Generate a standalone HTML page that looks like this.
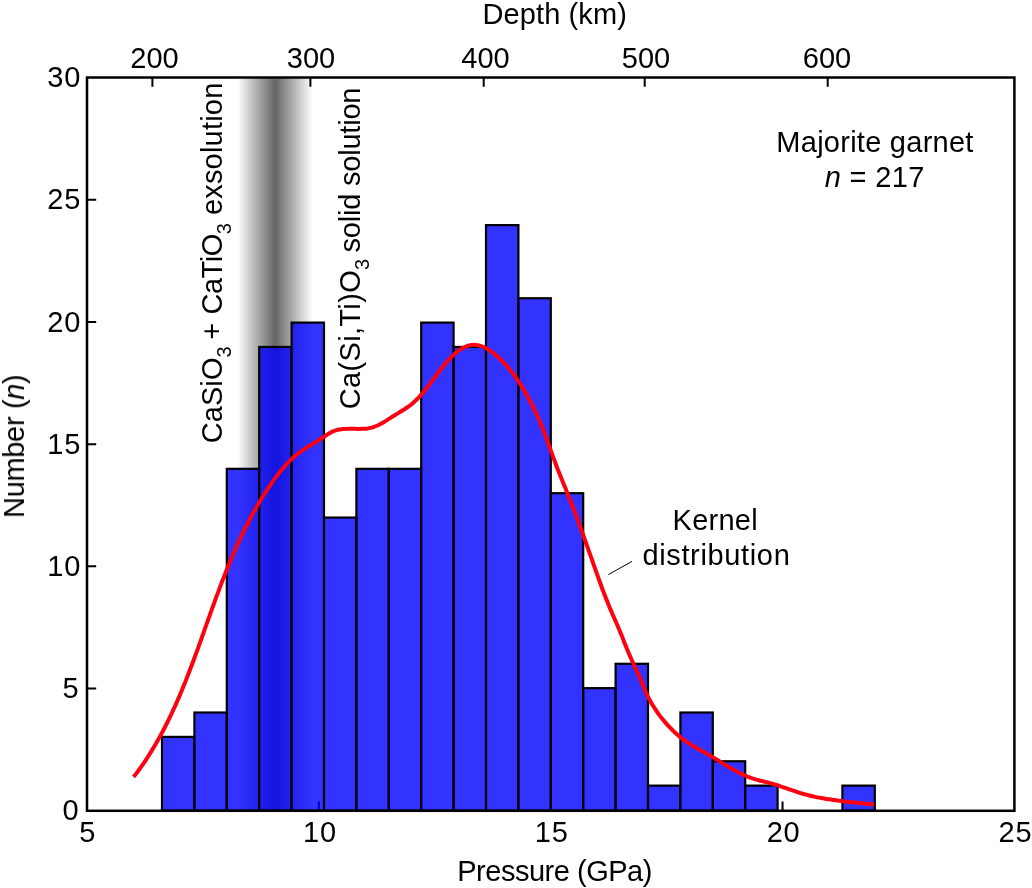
<!DOCTYPE html>
<html><head><meta charset="utf-8"><title>Majorite garnet histogram</title>
<style>
html,body{margin:0;padding:0;background:#fff;}
body{width:1032px;height:888px;overflow:hidden;}
svg{display:block;}
text{font-family:"Liberation Sans",sans-serif;font-size:29px;fill:#000;}
.i{font-style:italic;}
</style></head><body>
<svg width="1032" height="888" viewBox="0 0 1032 888">
<defs>
<linearGradient id="band" x1="0" y1="0" x2="1" y2="0">
<stop offset="0" stop-color="#ffffff"/>
<stop offset="0.5" stop-color="#666464"/>
<stop offset="1" stop-color="#ffffff"/>
</linearGradient>
</defs>
<rect x="0" y="0" width="1032" height="888" fill="#ffffff"/>
<rect x="237.5" y="77.5" width="75" height="733.3" fill="url(#band)"/>
<path d="M87.0,688.58H96.2M87.0,566.37H96.2M87.0,444.15H96.2M87.0,321.93H96.2M87.0,199.72H96.2M318.85,810.8V801.5M550.70,810.8V801.5M782.55,810.8V801.5M152.4,77.5V86.7M310.4,77.5V86.7M483.7,77.5V86.7M644.7,77.5V86.7M827.7,77.5V86.7" stroke="#000" stroke-width="2" fill="none"/>
<g fill="#0000ff" fill-opacity="0.8" stroke="#000" stroke-width="2.2" stroke-linejoin="miter">
<rect x="162.00" y="736.89" width="32.40" height="73.71"/>
<rect x="194.40" y="712.52" width="32.40" height="98.08"/>
<rect x="226.80" y="468.82" width="32.40" height="341.78"/>
<rect x="259.20" y="346.97" width="32.40" height="463.63"/>
<rect x="291.60" y="322.60" width="32.40" height="488.00"/>
<rect x="324.00" y="517.56" width="32.40" height="293.04"/>
<rect x="356.40" y="468.82" width="32.40" height="341.78"/>
<rect x="388.80" y="468.82" width="32.40" height="341.78"/>
<rect x="421.20" y="322.60" width="32.40" height="488.00"/>
<rect x="453.60" y="346.97" width="32.40" height="463.63"/>
<rect x="486.00" y="225.12" width="32.40" height="585.48"/>
<rect x="518.40" y="298.23" width="32.40" height="512.37"/>
<rect x="550.80" y="493.19" width="32.40" height="317.41"/>
<rect x="583.20" y="688.15" width="32.40" height="122.45"/>
<rect x="615.60" y="663.78" width="32.40" height="146.82"/>
<rect x="648.00" y="785.63" width="32.40" height="24.97"/>
<rect x="680.40" y="712.52" width="32.40" height="98.08"/>
<rect x="712.80" y="761.26" width="32.40" height="49.34"/>
<rect x="745.20" y="785.63" width="32.40" height="24.97"/>
<rect x="842.40" y="785.63" width="32.40" height="24.97"/>
</g>
<rect x="87.0" y="77.5" width="927.4" height="733.3" fill="none" stroke="#000" stroke-width="2.5"/>
<path d="M133.5,776.9C134.0,776.3 135.6,774.4 136.6,773.1C137.6,771.8 138.6,770.4 139.6,769.0C140.5,767.7 141.5,766.3 142.5,764.9C143.4,763.5 144.4,762.2 145.3,760.8C146.2,759.4 147.1,758.0 148.0,756.6C148.9,755.1 149.8,753.7 150.7,752.3C151.6,750.9 152.5,749.4 153.3,748.0C154.2,746.6 155.1,745.1 155.9,743.7C156.7,742.2 157.6,740.8 158.4,739.3C159.2,737.8 160.0,736.4 160.8,734.9C161.6,733.4 162.4,732.0 163.2,730.5C164.0,729.0 164.7,727.5 165.5,726.0C166.3,724.5 167.0,723.0 167.8,721.5C168.5,720.0 169.2,718.5 170.0,717.0C170.7,715.5 171.4,714.0 172.1,712.5C172.8,710.9 173.5,709.4 174.2,707.9C174.9,706.4 175.6,704.8 176.3,703.3C177.0,701.8 177.6,700.2 178.3,698.7C179.0,697.2 179.6,695.6 180.3,694.1C180.9,692.5 181.6,691.0 182.2,689.4C182.9,687.9 183.5,686.3 184.1,684.8C184.7,683.2 185.4,681.7 186.0,680.1C186.6,678.5 187.2,677.0 187.8,675.4C188.4,673.9 189.0,672.3 189.6,670.7C190.2,669.2 190.8,667.6 191.4,666.0C192.0,664.5 192.6,662.9 193.2,661.3C193.8,659.8 194.4,658.2 194.9,656.6C195.5,655.0 196.1,653.5 196.7,651.9C197.2,650.3 197.8,648.7 198.4,647.2C198.9,645.6 199.5,644.0 200.1,642.4C200.6,640.9 201.2,639.3 201.8,637.7C202.3,636.1 202.9,634.5 203.5,633.0C204.0,631.4 204.6,629.8 205.1,628.2C205.7,626.6 206.3,625.1 206.8,623.5C207.4,621.9 207.9,620.3 208.5,618.7C209.1,617.2 209.6,615.6 210.2,614.0C210.7,612.4 211.3,610.8 211.9,609.3C212.4,607.7 213.0,606.1 213.6,604.5C214.2,603.0 214.7,601.4 215.3,599.8C215.9,598.2 216.4,596.7 217.0,595.1C217.6,593.5 218.2,591.9 218.8,590.4C219.4,588.8 219.9,587.2 220.5,585.7C221.1,584.1 221.7,582.5 222.3,581.0C222.9,579.4 223.5,577.8 224.2,576.3C224.8,574.7 225.4,573.2 226.0,571.6C226.6,570.0 227.2,568.5 227.9,566.9C228.5,565.4 229.1,563.8 229.8,562.3C230.4,560.7 231.1,559.2 231.7,557.6C232.4,556.1 233.0,554.6 233.7,553.0C234.4,551.5 235.0,550.0 235.7,548.4C236.4,546.9 237.1,545.4 237.8,543.8C238.5,542.3 239.2,540.8 239.9,539.3C240.6,537.8 241.3,536.2 242.0,534.7C242.8,533.2 243.5,531.7 244.2,530.2C245.0,528.7 245.7,527.2 246.5,525.7C247.2,524.2 248.0,522.7 248.8,521.2C249.6,519.7 250.3,518.3 251.1,516.8C251.9,515.3 252.7,513.8 253.5,512.4C254.3,510.9 255.2,509.4 256.0,508.0C256.8,506.5 257.6,505.1 258.5,503.6C259.3,502.2 260.2,500.7 261.1,499.3C261.9,497.9 262.8,496.4 263.7,495.0C264.6,493.6 265.5,492.2 266.4,490.8C267.3,489.4 268.3,488.0 269.2,486.6C270.2,485.2 271.1,483.8 272.1,482.5C273.0,481.1 274.0,479.7 275.0,478.4C276.0,477.0 277.0,475.7 278.0,474.4C279.1,473.0 280.1,471.7 281.2,470.4C282.2,469.1 283.3,467.8 284.4,466.6C285.5,465.3 286.6,464.1 287.8,462.9C288.9,461.7 290.1,460.5 291.3,459.3C292.5,458.2 293.8,457.0 295.1,455.9C296.4,454.9 297.7,453.8 299.0,452.8C300.4,451.8 301.7,450.9 303.1,449.9C304.5,449.0 305.9,448.1 307.4,447.2C308.8,446.3 310.2,445.5 311.7,444.6C313.1,443.7 314.5,442.9 316.0,442.0C317.4,441.1 318.8,440.2 320.2,439.3C321.6,438.4 323.0,437.4 324.4,436.5C325.8,435.6 327.2,434.6 328.6,433.8C330.1,432.9 331.5,432.1 333.0,431.4C334.6,430.8 336.2,430.2 337.8,429.8C339.4,429.4 341.1,429.2 342.8,429.0C344.4,428.9 346.1,428.8 347.8,428.8C349.5,428.7 351.1,428.8 352.8,428.8C354.5,428.8 356.2,428.9 357.8,428.9C359.5,428.9 361.2,428.9 362.9,428.8C364.5,428.7 366.2,428.6 367.9,428.4C369.5,428.1 371.2,427.8 372.8,427.3C374.4,426.8 375.9,426.2 377.5,425.5C379.0,424.8 380.5,424.0 381.9,423.2C383.4,422.4 384.8,421.5 386.3,420.6C387.7,419.7 389.1,418.8 390.5,417.9C391.9,417.0 393.3,416.1 394.7,415.2C396.2,414.3 397.6,413.5 399.1,412.6C400.5,411.7 401.9,410.9 403.3,410.0C404.8,409.1 406.2,408.2 407.5,407.2C408.9,406.3 410.3,405.3 411.6,404.2C412.9,403.2 414.1,402.0 415.3,400.9C416.6,399.7 417.7,398.5 418.9,397.3C420.0,396.1 421.1,394.9 422.2,393.6C423.3,392.3 424.4,391.0 425.4,389.7C426.5,388.4 427.5,387.0 428.5,385.7C429.5,384.4 430.5,383.0 431.5,381.7C432.5,380.3 433.5,379.0 434.5,377.6C435.5,376.3 436.4,374.9 437.4,373.6C438.4,372.2 439.4,370.9 440.5,369.6C441.5,368.2 442.5,366.9 443.6,365.6C444.7,364.3 445.8,363.0 446.9,361.8C448.0,360.5 449.1,359.3 450.3,358.1C451.5,356.9 452.7,355.7 453.9,354.6C455.2,353.5 456.4,352.4 457.7,351.4C459.1,350.4 460.4,349.4 461.9,348.5C463.3,347.7 464.8,346.9 466.4,346.3C467.9,345.7 469.6,345.2 471.2,345.0C472.9,344.8 474.6,344.8 476.2,345.0C477.9,345.1 479.6,345.6 481.1,346.1C482.7,346.6 484.3,347.3 485.8,348.0C487.3,348.8 488.7,349.7 490.1,350.6C491.4,351.6 492.8,352.6 494.1,353.7C495.4,354.7 496.6,355.8 497.9,356.9C499.1,358.1 500.3,359.2 501.5,360.4C502.7,361.6 503.9,362.8 505.0,364.0C506.2,365.3 507.3,366.5 508.3,367.8C509.4,369.1 510.5,370.4 511.5,371.7C512.6,373.0 513.6,374.3 514.6,375.7C515.5,377.1 516.5,378.4 517.4,379.8C518.4,381.2 519.3,382.6 520.2,384.0C521.1,385.4 522.0,386.8 522.9,388.3C523.7,389.7 524.6,391.2 525.4,392.6C526.3,394.1 527.1,395.5 527.9,397.0C528.7,398.5 529.5,399.9 530.3,401.4C531.1,402.9 531.8,404.4 532.6,405.9C533.3,407.4 534.0,408.9 534.8,410.4C535.5,411.9 536.2,413.4 536.9,415.0C537.6,416.5 538.3,418.0 538.9,419.6C539.6,421.1 540.3,422.6 540.9,424.2C541.6,425.7 542.2,427.3 542.8,428.8C543.4,430.4 544.0,432.0 544.6,433.5C545.2,435.1 545.8,436.7 546.4,438.2C547.0,439.8 547.6,441.4 548.1,443.0C548.7,444.5 549.3,446.1 549.8,447.7C550.4,449.3 551.0,450.8 551.5,452.4C552.1,454.0 552.7,455.6 553.2,457.2C553.8,458.7 554.4,460.3 555.0,461.9C555.5,463.5 556.1,465.0 556.7,466.6C557.3,468.2 557.9,469.7 558.5,471.3C559.1,472.8 559.7,474.4 560.4,476.0C561.0,477.5 561.6,479.1 562.3,480.6C562.9,482.2 563.6,483.7 564.2,485.3C564.8,486.8 565.5,488.4 566.1,489.9C566.7,491.5 567.4,493.0 568.0,494.6C568.6,496.1 569.2,497.7 569.8,499.3C570.4,500.8 571.1,502.4 571.7,503.9C572.3,505.5 572.9,507.1 573.5,508.6C574.1,510.2 574.7,511.8 575.3,513.3C575.9,514.9 576.4,516.5 577.0,518.0C577.6,519.6 578.2,521.2 578.8,522.8C579.3,524.3 579.9,525.9 580.5,527.5C581.1,529.1 581.6,530.6 582.2,532.2C582.8,533.8 583.3,535.4 583.9,536.9C584.5,538.5 585.0,540.1 585.6,541.7C586.2,543.3 586.7,544.8 587.3,546.4C587.8,548.0 588.4,549.6 588.9,551.2C589.5,552.7 590.1,554.3 590.6,555.9C591.2,557.5 591.7,559.1 592.3,560.6C592.8,562.2 593.4,563.8 593.9,565.4C594.5,567.0 595.0,568.6 595.6,570.1C596.1,571.7 596.7,573.3 597.3,574.9C597.8,576.5 598.4,578.0 599.0,579.6C599.5,581.2 600.1,582.8 600.7,584.3C601.3,585.9 601.8,587.5 602.4,589.1C603.0,590.6 603.6,592.2 604.2,593.8C604.8,595.3 605.4,596.9 606.0,598.4C606.7,600.0 607.3,601.6 607.9,603.1C608.5,604.7 609.2,606.2 609.8,607.8C610.5,609.3 611.1,610.8 611.8,612.4C612.4,613.9 613.1,615.5 613.8,617.0C614.4,618.5 615.1,620.1 615.8,621.6C616.4,623.2 617.1,624.7 617.8,626.2C618.4,627.8 619.1,629.3 619.7,630.9C620.4,632.4 621.0,634.0 621.7,635.5C622.3,637.1 622.9,638.6 623.5,640.2C624.1,641.7 624.7,643.3 625.3,644.9C626.0,646.4 626.6,648.0 627.2,649.5C627.8,651.1 628.5,652.6 629.1,654.2C629.8,655.7 630.5,657.2 631.2,658.8C631.9,660.3 632.6,661.8 633.3,663.3C634.0,664.9 634.7,666.4 635.4,667.9C636.1,669.4 636.8,670.9 637.5,672.5C638.2,674.0 638.9,675.5 639.6,677.1C640.2,678.6 640.8,680.2 641.5,681.7C642.1,683.3 642.7,684.8 643.3,686.4C644.0,687.9 644.6,689.5 645.3,691.0C646.0,692.5 646.7,694.1 647.4,695.6C648.1,697.1 648.9,698.6 649.7,700.0C650.5,701.5 651.3,703.0 652.2,704.4C653.1,705.8 654.0,707.3 654.9,708.7C655.8,710.1 656.7,711.5 657.7,712.8C658.7,714.2 659.7,715.5 660.7,716.9C661.7,718.2 662.8,719.5 663.9,720.8C664.9,722.1 666.0,723.3 667.2,724.6C668.3,725.8 669.4,727.0 670.6,728.2C671.8,729.4 673.0,730.6 674.2,731.8C675.4,732.9 676.7,734.0 677.9,735.1C679.2,736.2 680.5,737.3 681.8,738.3C683.2,739.3 684.5,740.3 685.9,741.3C687.2,742.2 688.7,743.2 690.1,744.1C691.5,744.9 692.9,745.8 694.4,746.7C695.8,747.5 697.3,748.3 698.7,749.2C700.2,750.0 701.7,750.8 703.1,751.6C704.6,752.4 706.0,753.2 707.5,754.1C708.9,754.9 710.4,755.8 711.8,756.6C713.3,757.5 714.7,758.4 716.1,759.3C717.5,760.1 719.0,761.0 720.4,761.9C721.8,762.8 723.2,763.7 724.7,764.5C726.1,765.4 727.5,766.3 729.0,767.1C730.4,768.0 731.9,768.8 733.3,769.6C734.8,770.5 736.3,771.3 737.8,772.0C739.3,772.8 740.8,773.6 742.3,774.3C743.8,775.0 745.3,775.7 746.9,776.3C748.4,776.9 750.0,777.5 751.6,778.1C753.2,778.6 754.8,779.1 756.4,779.6C758.0,780.0 759.6,780.5 761.2,780.9C762.8,781.3 764.5,781.7 766.1,782.1C767.7,782.5 769.4,782.9 771.0,783.4C772.6,783.8 774.2,784.3 775.8,784.7C777.4,785.2 779.0,785.7 780.6,786.3C782.2,786.8 783.8,787.3 785.4,787.9C786.9,788.4 788.5,789.0 790.1,789.6C791.7,790.1 793.3,790.7 794.9,791.2C796.4,791.7 798.0,792.3 799.6,792.8C801.2,793.3 802.8,793.8 804.4,794.2C806.1,794.7 807.7,795.1 809.3,795.5C810.9,795.9 812.6,796.3 814.2,796.6C815.8,797.0 817.5,797.3 819.1,797.6C820.8,797.9 822.4,798.2 824.1,798.5C825.7,798.8 827.4,799.0 829.1,799.3C830.7,799.6 832.4,799.8 834.0,800.0C835.7,800.3 837.3,800.5 839.0,800.7C840.7,800.9 842.3,801.1 844.0,801.4C845.7,801.6 847.3,801.8 849.0,802.0C850.6,802.2 852.3,802.4 854.0,802.6C855.6,802.8 857.3,802.9 859.0,803.1C860.6,803.3 862.3,803.5 864.0,803.6C865.6,803.8 867.3,804.0 869.0,804.1C870.7,804.2 873.2,804.4 874.0,804.5" fill="none" stroke="#ff0012" stroke-width="4" stroke-linecap="butt" stroke-linejoin="round"/>
<path d="M608.3,574.6L632,561.4" stroke="#000" stroke-width="1" fill="none"/>
<g opacity="0.999">
<text x="78.7" y="820.4" text-anchor="end">0</text>
<text x="78.7" y="698.2" text-anchor="end">5</text>
<text x="81.1" y="576.0" text-anchor="end" letter-spacing="0.8">10</text>
<text x="81.1" y="453.8" text-anchor="end" letter-spacing="0.8">15</text>
<text x="81.1" y="331.5" text-anchor="end" letter-spacing="0.8">20</text>
<text x="81.1" y="209.3" text-anchor="end" letter-spacing="0.8">25</text>
<text x="81.1" y="87.1" text-anchor="end" letter-spacing="0.8">30</text>
<text x="87.3" y="841.7" text-anchor="middle">5</text>
<text x="320.0" y="841.7" text-anchor="middle" letter-spacing="0.8">10</text>
<text x="551.8" y="841.7" text-anchor="middle" letter-spacing="0.8">15</text>
<text x="783.6" y="841.7" text-anchor="middle" letter-spacing="0.8">20</text>
<text x="1015.5" y="841.7" text-anchor="middle" letter-spacing="0.8">25</text>
<text x="154.5" y="67.6" text-anchor="middle">200</text>
<text x="311.0" y="67.6" text-anchor="middle">300</text>
<text x="485.5" y="67.6" text-anchor="middle">400</text>
<text x="646.0" y="67.6" text-anchor="middle">500</text>
<text x="827.0" y="67.6" text-anchor="middle">600</text>
<text x="554.7" y="23.6" text-anchor="middle" letter-spacing="0.1">Depth (km)</text>
<text x="554.6" y="880.8" text-anchor="middle" letter-spacing="-0.48">Pressure (GPa)</text>
<text transform="translate(24,446.3) rotate(-90)" text-anchor="middle" letter-spacing="-0.33">Number (<tspan class="i">n</tspan>)</text>
<text x="875.0" y="152.2" text-anchor="middle" letter-spacing="0.26">Majorite garnet</text>
<text x="874.7" y="187.2" text-anchor="middle" letter-spacing="0.33"><tspan class="i">n</tspan> = 217</text>
<text x="715.2" y="529.9" text-anchor="middle" letter-spacing="0.24">Kernel</text>
<text x="716.4" y="564.6" text-anchor="middle" letter-spacing="0.65">distribution</text>
<text transform="translate(222.3,443.3) rotate(-90)" letter-spacing="0.08">CaSiO<tspan dy="8.3" font-size="20">3</tspan><tspan dy="-8.3" dx="-1.5"> + </tspan><tspan letter-spacing="-0.5">CaTiO</tspan><tspan dy="8.3" font-size="20">3</tspan><tspan dy="-8.3" dx="-0.3" letter-spacing="0.2"> exsolution</tspan></text>
<text transform="translate(360.4,409.3) rotate(-90)" letter-spacing="0.35">Ca(Si,Ti)O<tspan dy="8.3" font-size="20">3</tspan><tspan dy="-8.3" dx="-2" letter-spacing="-0.2"> solid solution</tspan></text>
</g>
</svg>
</body></html>
